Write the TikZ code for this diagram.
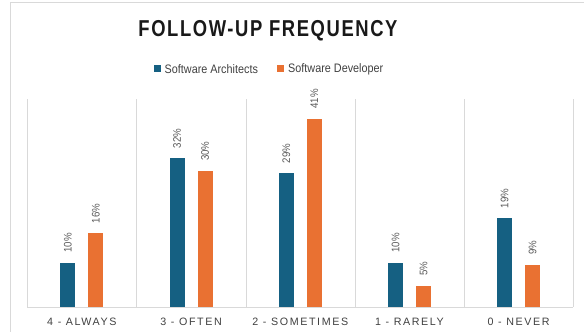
\documentclass[tikz,border=0pt]{standalone}
\usepackage{fontspec}
\usepackage{tikz}
\usetikzlibrary{positioning}
\setmainfont{Liberation Sans}
\newfontfamily\titlefont[FakeStretch=0.8,LetterSpace=7]{Liberation Sans}
\newfontfamily\catfont[LetterSpace=15]{Liberation Sans}
\newfontfamily\narrowfont[FakeStretch=0.88]{Liberation Sans}
\definecolor{swblue}{HTML}{156082}
\definecolor{swor}{HTML}{E97132}
\definecolor{gridc}{HTML}{D9D9D9}
\definecolor{txtc}{HTML}{404040}
\definecolor{lblc}{HTML}{595959}

\begin{document}
\begin{tikzpicture}[
            x=1pt,y=1pt,
            pct/.style={rotate=90,anchor=west,inner sep=0pt,text=lblc,font=\narrowfont\fontsize{11}{11}\selectfont},
            cat/.style={text=txtc,font=\catfont\fontsize{10.7}{10.7}\selectfont},
            legbox/.style={minimum size=7pt,inner sep=0pt},
            legtext/.style={inner sep=0pt,text=txtc,font=\narrowfont\fontsize{12.3}{12.3}\selectfont}
        ]
            \useasboundingbox (0,0) rectangle (584,332);
            \draw [gridc,semithick] (10,0) -- (10,329.5) -- (584,329.5);

            \node[text=black!90,font=\titlefont\bfseries\fontsize{23}{23}\selectfont] (title) at (268,301) {FOLLOW-UP FREQUENCY};

            \node[legbox,fill=swblue] (keyA) at (157.3,263) {};
            \node[legtext,right=3.5pt of keyA] (legA) {Software Architects};
            \node[legbox,fill=swor,right=19pt of legA] (keyB) {};
            \node[legtext,right=3.5pt of keyB] (legB) {Software Developer};

            \foreach \i in {0,...,5} {
                \draw [gridc] (27.3+109.2*\i,25) -- (27.3+109.2*\i,233);
            }
            \draw [gridc] (27.3,25) -- (573.3,25);

            \foreach \i/\ha/\la/\hb/\lb/\name in {
                0/44.3/10/73.7/16/4 - ALWAYS,
                1/148.7/32/136/30/3 - OFTEN,
                2/133.7/29/188.3/41/2 - SOMETIMES,
                3/44.3/10/21/5/1 - RARELY,
                4/88.7/19/42/9/0 - NEVER} {
                \fill [swblue] (81.9+109.2*\i-21.5,25) rectangle (81.9+109.2*\i-6.5,25+\ha);
                \fill [swor] (81.9+109.2*\i+6.5,25) rectangle (81.9+109.2*\i+21.5,25+\hb);
                \node[pct] at (81.9+109.2*\i-14,35+\ha) {\la\%};
                \node[pct] at (81.9+109.2*\i+14,35+\hb) {\lb\%};
                \node[cat] at (81.9+109.2*\i,10.3) {\name};
            }
        \end{tikzpicture}
\end{document}
